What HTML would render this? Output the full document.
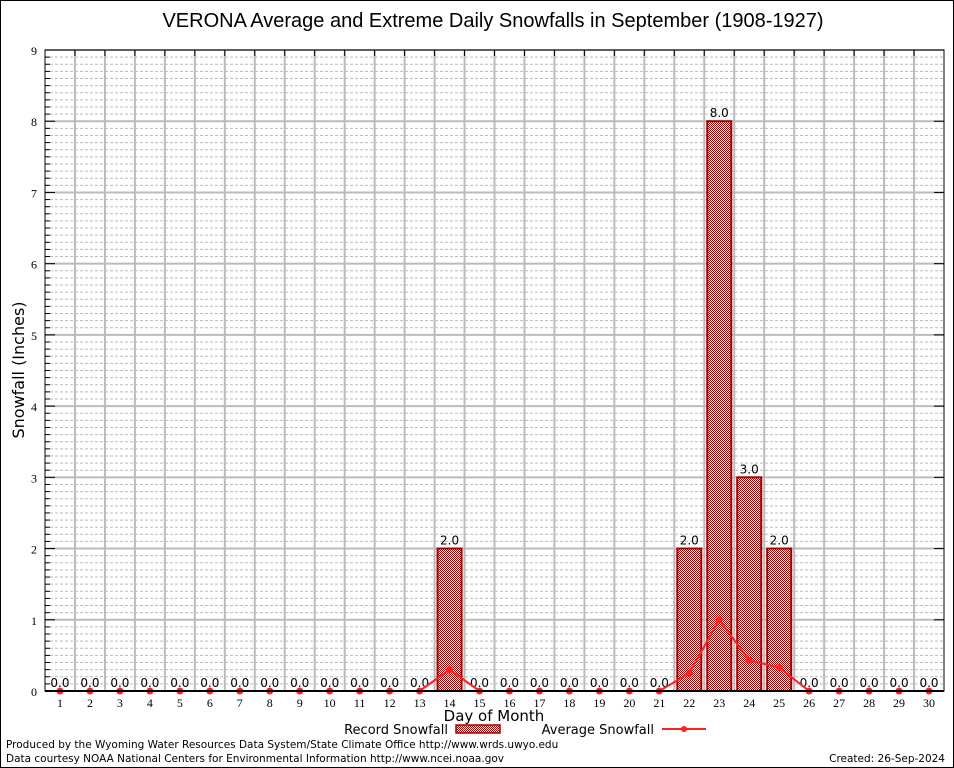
<!DOCTYPE html>
<html><head><meta charset="utf-8"><style>
body{margin:0;background:#fff}
svg{display:block;font-family:"DejaVu Sans",sans-serif}
</style></head><body>
<svg id="c" width="954" height="768" xmlns="http://www.w3.org/2000/svg">
<defs>
<pattern id="hatch" width="4" height="4" patternUnits="userSpaceOnUse">
<rect width="4" height="4" fill="#fff"/>
<rect x="0" y="0" width="1" height="1" fill="#a00000"/><rect x="2" y="0" width="1" height="1" fill="#a00000"/>
<rect x="1" y="1" width="1" height="1" fill="#a00000"/><rect x="3" y="1" width="1" height="1" fill="#a00000"/>
<rect x="0" y="2" width="1" height="1" fill="#a00000"/><rect x="2" y="2" width="1" height="1" fill="#a00000"/>
<rect x="1" y="3" width="1" height="1" fill="#a00000"/><rect x="3" y="3" width="1" height="1" fill="#a00000"/>
</pattern>
</defs>
<rect x="0.5" y="0.5" width="953" height="767" fill="#fff" stroke="#000"/>
<text x="493" y="27" font-size="20" text-anchor="middle" font-family="Liberation Sans, sans-serif">VERONA Average and Extreme Daily Snowfalls in September (1908-1927)</text>
<g id="grid"></g>
<g id="bars"></g>
<g id="line"></g>
<g id="axes"></g>
<text transform="translate(24,370) rotate(-90)" font-size="16" text-anchor="middle">Snowfall (Inches)</text>
<text x="494" y="721" font-size="15" text-anchor="middle">Day of Month</text>
<g>
<text x="448" y="734" font-size="13" text-anchor="end">Record Snowfall</text>
<rect x="456" y="725" width="44" height="8" fill="url(#hatch)" stroke="#a00000" stroke-width="1.5"/>
<text x="654" y="734" font-size="13" text-anchor="end">Average Snowfall</text>
<line x1="662" y1="729" x2="706" y2="729" stroke="#ff2020" stroke-width="2"/>
<circle cx="684" cy="729" r="3" fill="#ff2020"/>
</g>
<text x="6" y="748" font-size="10.5">Produced by the Wyoming Water Resources Data System/State Climate Office http://www.wrds.uwyo.edu</text>
<text x="6" y="762" font-size="10.5">Data courtesy NOAA National Centers for Environmental Information http://www.ncei.noaa.gov</text>
<text x="945" y="762" font-size="10.5" text-anchor="end">Created:  26-Sep-2024</text>
</svg>
<script>
const days=[1,2,3,4,5,6,7,8,9,10,11,12,13,14,15,16,17,18,19,20,21,22,23,24,25,26,27,28,29,30];
const recordSnow=[0,0,0,0,0,0,0,0,0,0,0,0,0,2,0,0,0,0,0,0,0,2,8,3,2,0,0,0,0,0];
const avgSnow=[0,0,0,0,0,0,0,0,0,0,0,0,0,0.3,0,0,0,0,0,0,0,0.25,1.0,0.43,0.33,0,0,0,0,0];
const yTicks=[0,1,2,3,4,5,6,7,8,9];

const NS='http://www.w3.org/2000/svg';
const L=45,R=944,T=50,B=691,yMax=9;
const step=(R-L)/days.length;
const xs=d=>L+step*(d-0.5);
const ys=v=>B-(B-T)*v/yMax;
function mk(tag,attrs,parent){const e=document.createElementNS(NS,tag);for(const k in attrs)e.setAttribute(k,attrs[k]);parent.appendChild(e);return e;}
const grid=document.getElementById('grid'),bars=document.getElementById('bars'),line=document.getElementById('line'),axes=document.getElementById('axes');
for(let i=1;i<yMax*10;i++){if(i%10===0)continue;const y=ys(i/10);
 const g=mk('line',{x1:L,x2:R,y1:y,y2:y,stroke:'#bbb','stroke-dasharray':'3,2','stroke-width':1},grid);
 
 
 const t=mk('line',{x1:L,x2:L+5,y1:y,y2:y,stroke:'#000'},axes);
 
 }
yTicks.forEach(v=>{const y=ys(v);
 const g=mk('line',{x1:L,x2:R,y1:y,y2:y,stroke:'#bbb','stroke-width':2},grid);
 
 
 const t=mk('text',{x:L-8,y:y+5,'font-size':12,'text-anchor':'end','font-family':'Liberation Serif, serif'},axes);t.textContent=v;
 
 
 const tk=mk('line',{x1:L,x2:L+10,y1:y,y2:y,stroke:'#000'},axes);
 
 
 const tk2=mk('line',{x1:R-10,x2:R,y1:y,y2:y,stroke:'#000'},axes);
 
 });
for(let k=1;k<days.length;k++){const x=L+step*k;
 const g=mk('line',{x1:x,x2:x,y1:T,y2:B,stroke:'#bbb','stroke-width':2},grid);
 
 
 const t=mk('line',{x1:x,x2:x,y1:T,y2:T+6,stroke:'#000'},axes);
 
 }
const bw=24;
days.forEach((d,i)=>{const v=recordSnow[i];const x=xs(d);
 if(v>0){const r=mk('rect',{x:x-bw/2,y:ys(v),width:bw,height:B-ys(v),fill:'url(#hatch)',stroke:'#a00000','stroke-width':2},bars);
 
 }
 const t=mk('text',{x:x,y:ys(v)-4,'font-size':12,'text-anchor':'middle'},bars);t.textContent=v.toFixed(1);
 
 
 const xl=mk('text',{x:x,y:B+16,'font-size':12,'text-anchor':'middle','font-family':'Liberation Serif, serif'},axes);xl.textContent=d;
 
 });
const pts=days.map((d,i)=>xs(d)+','+ys(avgSnow[i])).join(' ');
const pl=mk('polyline',{points:pts,fill:'none',stroke:'#ff2020','stroke-width':2},line);


days.forEach((d,i)=>{const c=mk('circle',{cx:xs(d),cy:ys(avgSnow[i]),r:3.5,fill:'#ff2020'},line);
 
 });
const fr=mk('rect',{x:L,y:T,width:R-L,height:B-T,fill:'none',stroke:'#000','stroke-width':1},axes);


const xa=mk('line',{x1:L,x2:R,y1:B,y2:B,stroke:'#000','stroke-width':2},axes);


</script>
</body></html>
